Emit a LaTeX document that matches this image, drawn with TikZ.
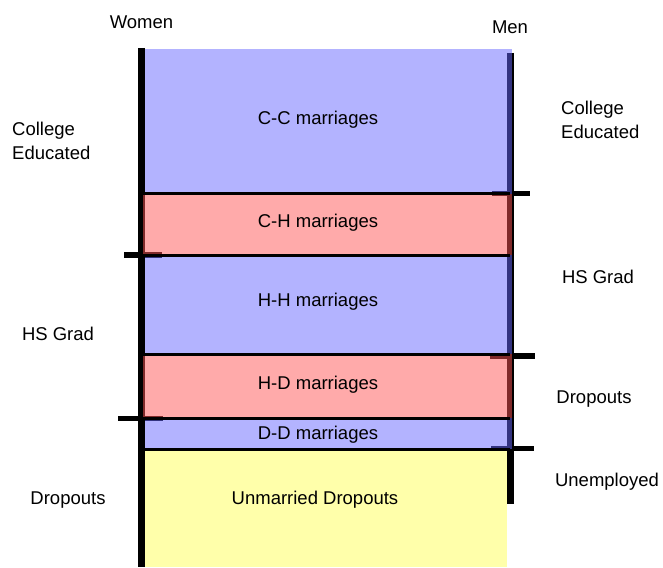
\documentclass[tikz,border=0pt]{standalone}
\usepackage{fontspec}
\setmainfont{Liberation Sans}
\definecolor{cblue}{RGB}{103,103,255}
\definecolor{cpink}{RGB}{255,85,85}
\definecolor{cyellow}{RGB}{255,255,85}
\begin{document}
\begin{tikzpicture}[x=1pt,y=-1pt,
  lbl/.style={font=\fontsize{18.5}{24}\selectfont, inner sep=0pt, align=left},
  axis/.style={line width=7pt},
  tick/.style={line width=5.5pt},
  sep/.style={line width=3pt},
  band/.style={fill opacity=0.5}]
\useasboundingbox (0,0) rectangle (663,567);
% axes
\coordinate (wtop) at (141.5,48);
\coordinate (wbot) at (141.5,567);
\coordinate (mtop) at (510.5,53);
\coordinate (mbot) at (510.5,504);
\draw[axis] (wtop) -- (wbot);
\draw[axis] (mtop) -- (mbot);
% ticks
\coordinate (t1a) at (492,193.5); \coordinate (t1b) at (530,193.5);
\coordinate (t2a) at (124,255);   \coordinate (t2b) at (162,255);
\coordinate (t3a) at (490,356);   \coordinate (t3b) at (535,356);
\coordinate (t4a) at (118,418.5); \coordinate (t4b) at (163,418.5);
\coordinate (t5a) at (491,448.5); \coordinate (t5b) at (534,448.5);
\draw[tick] (t1a) -- (t1b);
\draw[tick] (t2a) -- (t2b);
\draw[tick] (t3a) -- (t3b);
\draw[tick] (t4a) -- (t4b);
\draw[tick] (t5a) -- (t5b);
% bands
\fill[band,cblue] (145,49) rectangle (512,193.5);
\fill[band,cpink] (143,193.5) rectangle (512,255);
\fill[band,cblue] (145,255) rectangle (512,354);
\fill[band,cpink] (143,354) rectangle (512,418);
\fill[band,cblue] (145,418) rectangle (512,449);
\fill[band,cyellow] (145,449) rectangle (507,567);
% separators
\coordinate (s1a) at (141,193.5); \coordinate (s1b) at (510,193.5);
\coordinate (s2a) at (141,255);   \coordinate (s2b) at (510,255);
\coordinate (s3a) at (141,354);   \coordinate (s3b) at (510,354);
\coordinate (s4a) at (141,418);   \coordinate (s4b) at (510,418);
\coordinate (s5a) at (141,449);   \coordinate (s5b) at (510,449);
\draw[sep] (s1a) -- (s1b);
\draw[sep] (s2a) -- (s2b);
\draw[sep] (s3a) -- (s3b);
\draw[sep] (s4a) -- (s4b);
\draw[sep] (s5a) -- (s5b);
% band labels
\node[lbl] (cc) at (318,120) {C-C marriages};
\node[lbl] (ch) at (318,223) {C-H marriages};
\node[lbl] (hh) at (318,302) {H-H marriages};
\node[lbl] (hd) at (318,385) {H-D marriages};
\node[lbl] (dd) at (318,435) {D-D marriages};
\node[lbl] (ud) at (315,500) {Unmarried Dropouts};
% side labels
\node[lbl] (women) at (141.5,22) {Women};
\node[lbl] (men) at (510,27) {Men};
\node[lbl,anchor=west] (wce) at (12,141) {College\\Educated};
\node[lbl] (whs) at (58,334) {HS Grad};
\node[lbl] (wdo) at (68,500) {Dropouts};
\node[lbl,anchor=west] (mce) at (561,120) {College\\Educated};
\node[lbl] (mhs) at (598,277) {HS Grad};
\node[lbl] (mdo) at (594,399) {Dropouts};
\node[lbl] (mun) at (607,482) {Unemployed};
\end{tikzpicture}
\end{document}
